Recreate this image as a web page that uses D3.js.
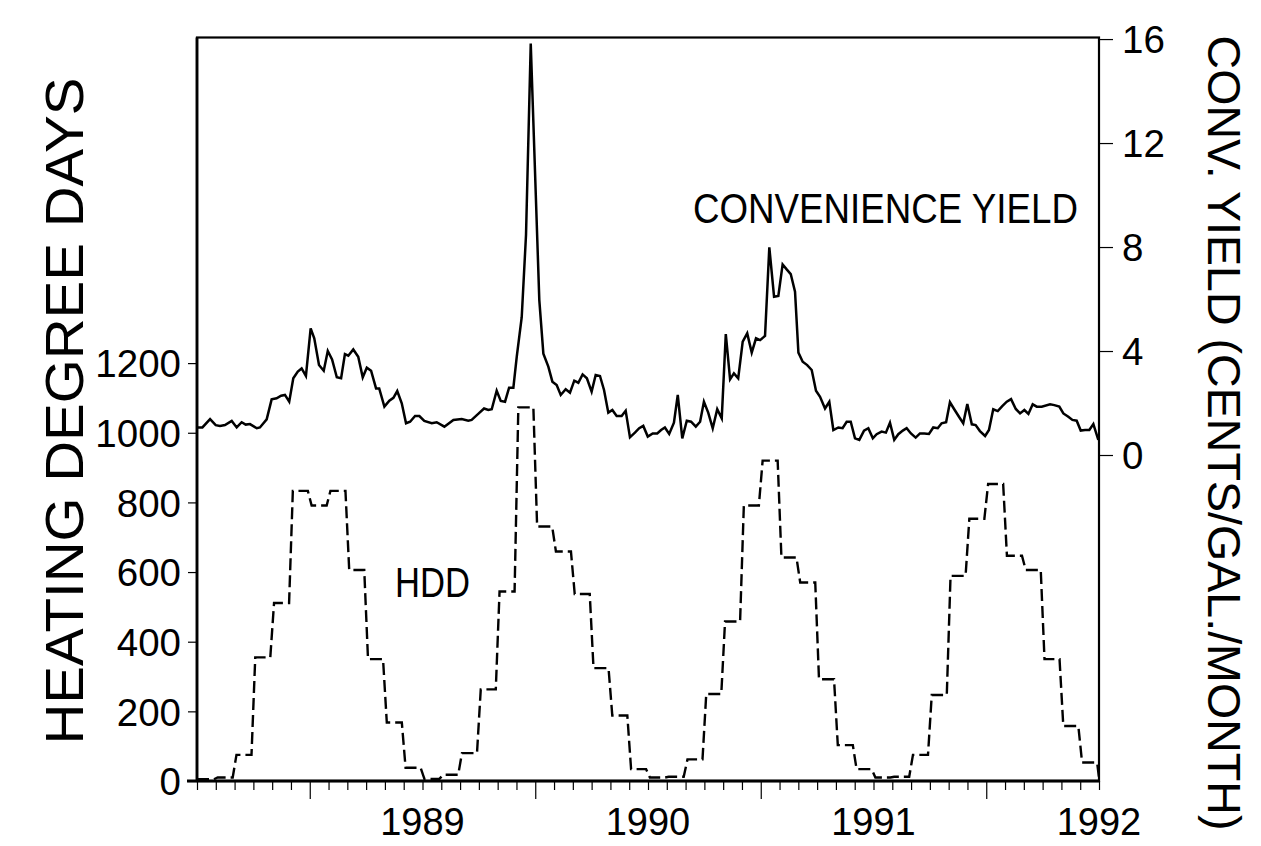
<!DOCTYPE html>
<html><head><meta charset="utf-8">
<script src="https://cdn.jsdelivr.net/npm/d3@7"></script>
<style>
body{margin:0;background:#fff}
svg{display:block}
text{font-family:"Liberation Sans",Arial,Helvetica,sans-serif;fill:#000}
</style>
</head><body>
<svg id="chart" width="1261" height="846"></svg>
<script>
// ---------------- DATA ----------------
const startYear = 1988.5, endYear = 1992.5;
// Monthly heating degree days, Jul 1988 ... Jul 1992
const hddValues = [5,10,75,355,511,833,791,833,606,350,168,38,
                   6,18,80,263,544,1073,731,659,537,324,188,34,
                   10,12,62,250,458,791,920,642,570,292,103,34,
                   10,12,75,247,589,753,853,647,606,350,158,53,
                   10];
// Weekly convenience yield (cents/gal./month): time (decimal year) and value
const cyTime = [1988.500,1988.524,1988.558,1988.583,1988.602,1988.624,1988.654,1988.676,1988.698,1988.716,
1988.735,1988.765,1988.779,1988.809,1988.831,1988.853,1988.873,1988.890,1988.909,1988.927,
1988.947,1988.964,1988.983,1989.004,1989.020,1989.041,1989.062,1989.080,1989.099,1989.120,
1989.139,1989.156,1989.171,1989.193,1989.215,1989.235,1989.253,1989.272,1989.294,1989.308,
1989.331,1989.353,1989.371,1989.388,1989.408,1989.427,1989.445,1989.467,1989.486,1989.508,
1989.541,1989.563,1989.597,1989.637,1989.674,1989.703,1989.718,1989.747,1989.773,1989.792,
1989.807,1989.829,1989.847,1989.866,1989.884,1989.903,1989.918,1989.940,1989.959,1989.980,
1990.018,1990.036,1990.058,1990.076,1990.095,1990.113,1990.135,1990.154,1990.173,1990.191,
1990.210,1990.229,1990.250,1990.268,1990.287,1990.305,1990.324,1990.342,1990.361,1990.383,
1990.401,1990.420,1990.442,1990.461,1990.479,1990.499,1990.521,1990.541,1990.558,1990.575,
1990.594,1990.615,1990.632,1990.652,1990.672,1990.691,1990.712,1990.731,1990.748,1990.767,
1990.787,1990.807,1990.827,1990.845,1990.864,1990.881,1990.900,1990.920,1990.940,1990.960,
1990.979,1990.997,1991.019,1991.038,1991.059,1991.078,1991.097,1991.115,1991.133,1991.152,
1991.167,1991.186,1991.206,1991.226,1991.245,1991.263,1991.285,1991.304,1991.322,1991.344,
1991.363,1991.381,1991.399,1991.418,1991.437,1991.458,1991.477,1991.497,1991.514,1991.536,
1991.555,1991.573,1991.592,1991.610,1991.630,1991.647,1991.666,1991.687,1991.706,1991.725,
1991.746,1991.765,1991.785,1991.802,1991.822,1991.839,1991.858,1991.879,1991.898,1991.916,
1991.936,1991.953,1991.972,1991.995,1992.012,1992.031,1992.051,1992.071,1992.091,1992.110,
1992.131,1992.150,1992.169,1992.187,1992.206,1992.224,1992.246,1992.283,1992.302,1992.324,
1992.342,1992.364,1992.382,1992.401,1992.419,1992.438,1992.457,1992.475,1992.497];
const cyValues = [1.06,1.06,1.38,1.15,1.12,1.15,1.31,1.06,1.26,1.17,
1.19,1.03,1.06,1.37,2.14,2.18,2.28,2.31,2.05,2.95,
3.21,3.33,3.04,4.87,4.49,3.46,3.24,4.00,3.68,2.99,
2.95,3.88,3.82,4.06,3.78,2.99,3.36,3.24,2.56,2.56,
1.86,2.09,2.20,2.46,1.99,1.22,1.28,1.50,1.50,1.31,
1.22,1.26,1.09,1.35,1.38,1.32,1.35,1.58,1.79,1.73,
1.76,2.47,2.08,2.05,2.59,2.59,3.78,5.30,8.46,15.83,
5.96,3.90,3.40,2.82,2.69,2.31,2.53,2.40,2.86,2.78,
3.10,2.95,2.44,3.08,3.04,2.50,1.63,1.73,1.50,1.50,
1.70,0.68,0.86,1.03,1.12,0.71,0.83,0.83,0.96,1.06,
0.81,1.24,2.31,0.64,1.32,1.28,1.09,1.28,2.05,1.63,
1.03,1.76,1.41,4.65,2.91,3.14,2.95,4.36,4.68,3.94,
4.49,4.42,4.58,7.99,6.09,6.12,7.33,7.14,6.96,6.28,
3.94,3.59,3.46,3.27,2.47,2.24,1.79,2.05,0.96,1.06,
1.03,1.28,1.28,0.64,0.58,0.94,1.03,0.64,0.80,0.90,
0.86,1.24,0.58,0.80,0.94,1.03,0.83,0.67,0.83,0.83,
0.81,1.06,1.03,1.22,1.26,2.03,1.76,1.47,1.22,1.96,
1.18,1.15,0.92,0.73,0.96,1.76,1.69,1.88,2.05,2.15,
1.77,1.60,1.73,1.58,1.95,1.86,1.86,1.95,1.92,1.86,
1.60,1.47,1.35,1.32,0.94,0.96,0.96,1.19,0.58];
const hddTicks = [0,200,400,600,800,1000,1200];
const cyTicks = [0,4,8,12,16];
const yearLabels = [1989,1990,1991,1992];

// ---------------- LAYOUT ----------------
const L = 197, R = 1099, T = 37.5, B = 781;
const svg = d3.select("#chart");

const x = d3.scaleLinear().domain([startYear, endYear]).range([L, R]);
const yL = d3.scaleLinear().domain([0, 2135]).range([B, T]);
const yR = d3.scaleLinear().domain([-12.54, 16.06]).range([B, T]);

// HDD points: each month held flat, short transition at the month boundary
const hddPts = [];
hddValues.forEach((v, i) => {
  const t0 = startYear + i / 12;
  if (i === hddValues.length - 1) { hddPts.push([endYear, v]); return; }
  hddPts.push([i === 0 ? t0 : t0 + 0.1 / 12, v]);
  hddPts.push([t0 + 0.9 / 12, v]);
});

svg.append("clipPath").attr("id","pc").append("rect")
  .attr("x", L).attr("y", T - 2).attr("width", R - L).attr("height", B - T + 2);

const g = svg.append("g").attr("clip-path","url(#pc)");

g.append("path").datum(hddPts)
  .attr("fill","none").attr("stroke","#000").attr("stroke-width",2.4)
  .attr("stroke-dasharray","12,5")
  .attr("d", d3.line().x(d => x(d[0])).y(d => yL(d[1])));

g.append("path").datum(cyTime.map((t, i) => [t, cyValues[i]]))
  .attr("fill","none").attr("stroke","#000").attr("stroke-width",2.5)
  .attr("stroke-linejoin","miter")
  .attr("d", d3.line().x(d => x(d[0])).y(d => yR(d[1])));

// frame
svg.append("rect").attr("x", L).attr("y", T).attr("width", R - L).attr("height", B - T)
  .attr("fill","none").attr("stroke","#000").attr("stroke-width",2.2);
svg.append("line").attr("x1", L - 10).attr("x2", R).attr("y1", B).attr("y2", B)
  .attr("stroke","#000").attr("stroke-width",2.8);
svg.append("line").attr("x1", L).attr("x2", L).attr("y1", T).attr("y2", B)
  .attr("stroke","#000").attr("stroke-width",2.8);

// left axis
const axL = svg.append("g").attr("transform",`translate(${L},0)`)
  .call(d3.axisLeft(yL).tickValues(hddTicks).tickSize(9).tickPadding(7).tickFormat(d3.format("d")));
axL.select(".domain").remove();
axL.selectAll("line").attr("stroke","#000").attr("stroke-width",1.2);
axL.selectAll("text").style("font-size","38.5px").attr("fill","#000").attr("dy","0.36em");

// right axis
const axR = svg.append("g").attr("transform",`translate(${R},0)`)
  .call(d3.axisRight(yR).tickValues(cyTicks).tickSize(14).tickPadding(9).tickFormat(d3.format("d")));
axR.select(".domain").remove();
axR.selectAll("line").attr("stroke","#000").attr("stroke-width",1.2);
axR.selectAll("text").style("font-size","38.5px").attr("fill","#000").attr("dy","0.36em");

// bottom axis: monthly minor ticks, yearly (January) major ticks
const months = d3.range(0, 49).map(i => startYear + i / 12);
const minorTicks = months.filter(t => Math.abs(t - Math.round(t)) > 1e-6);
const majorTicks = months.filter(t => Math.abs(t - Math.round(t)) <= 1e-6);
const axBminor = svg.append("g").attr("transform",`translate(0,${B})`)
  .call(d3.axisBottom(x).tickValues(minorTicks).tickSize(9).tickFormat(""));
axBminor.select(".domain").remove();
axBminor.selectAll("line").attr("stroke","#000").attr("stroke-width",1.2);
const axBmajor = svg.append("g").attr("transform",`translate(0,${B})`)
  .call(d3.axisBottom(x).tickValues(majorTicks).tickSize(18).tickFormat(""));
axBmajor.select(".domain").remove();
axBmajor.selectAll("line").attr("stroke","#000").attr("stroke-width",1.2);

svg.append("g").selectAll("text").data(yearLabels).join("text")
  .attr("x", d => x(d + 0.5)).attr("y", 835)
  .attr("text-anchor","middle").style("font-size","38px")
  .text(d => d);

// axis titles
svg.append("text")
  .attr("transform","translate(83,411) rotate(-90)")
  .attr("text-anchor","middle").style("font-size","54px")
  .attr("textLength",667).attr("lengthAdjust","spacingAndGlyphs")
  .text("HEATING DEGREE DAYS");
svg.append("text")
  .attr("transform","translate(1208,433) rotate(90)")
  .attr("text-anchor","middle").style("font-size","46px")
  .attr("textLength",795).attr("lengthAdjust","spacingAndGlyphs")
  .text("CONV. YIELD (CENTS/GAL./MONTH)");

// series labels
svg.append("text").attr("x",693).attr("y",223).style("font-size","42px")
  .attr("textLength",385).attr("lengthAdjust","spacingAndGlyphs")
  .text("CONVENIENCE YIELD");
svg.append("text").attr("x",395).attr("y",597).style("font-size","42px")
  .attr("textLength",75).attr("lengthAdjust","spacingAndGlyphs")
  .text("HDD");
</script>
</body></html>
